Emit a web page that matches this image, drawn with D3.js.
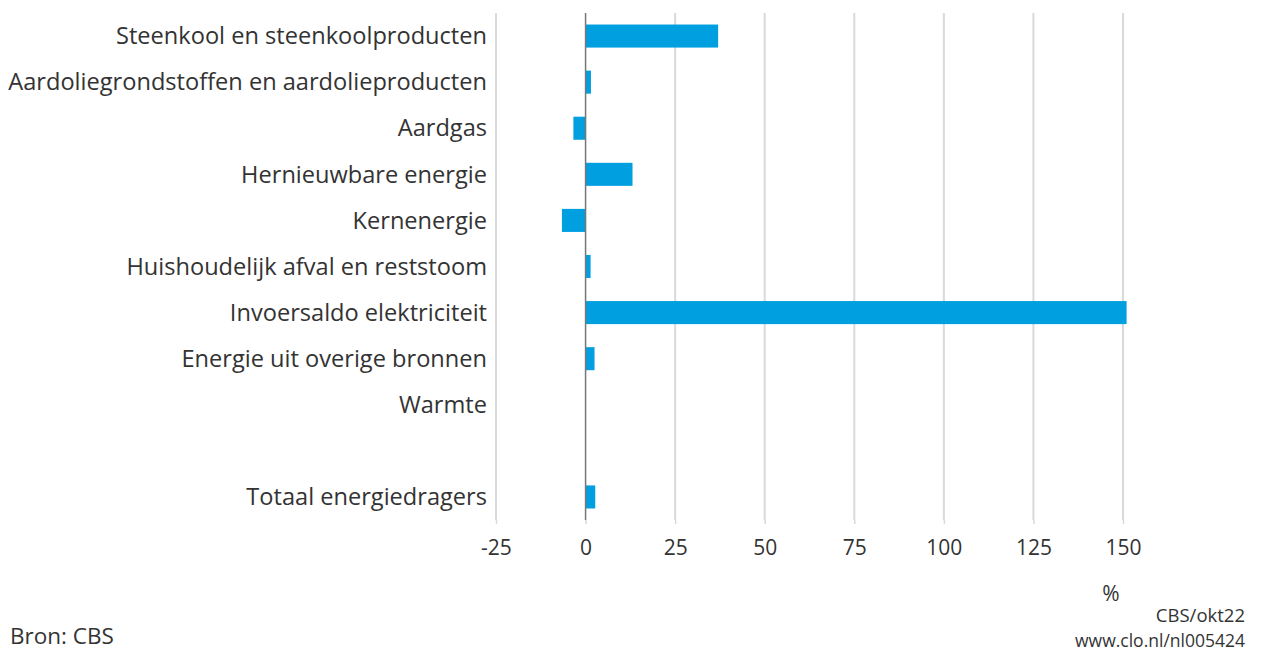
<!DOCTYPE html>
<html>
<head>
<meta charset="utf-8">
<script src="https://cdn.jsdelivr.net/npm/d3@7"></script>
<style>
  body { margin: 0; background: #fff; }
  text { font-family: "Open Sans", "Noto Sans", sans-serif; fill: #333; }
</style>
</head>
<body>
<div id="chart"></div>
<script>
// categories (empty string = blank row before the total)
const categories = [
    "Steenkool en steenkoolproducten",
    "Aardoliegrondstoffen en aardolieproducten",
    "Aardgas",
    "Hernieuwbare energie",
    "Kernenergie",
    "Huishoudelijk afval en reststoom",
    "Invoersaldo elektriciteit",
    "Energie uit overige bronnen",
    "Warmte",
    "",
    "Totaal energiedragers",
];
const values = [37, 1.5, -3.4, 13.1, -6.6, 1.4, 151, 2.5, 0, null, 2.7];
const xTicks = [-25, 0, 25, 50, 75, 100, 125, 150];

const width = 1276, height = 653;
const margin = { top: 13, left: 496, right: 153, bottom: 133 };

const svg = d3.select("#chart")
    .append("svg")
    .attr("width", width)
    .attr("height", height);

const x = d3.scaleLinear()
    .domain([-25, 150])
    .range([margin.left, width - margin.right]);

const y = d3.scaleBand()
    .domain(categories.map((d, i) => i))
    .range([margin.top, height - margin.bottom])
    .paddingInner(0.5)
    .paddingOuter(0.25);

// gridlines
svg.append("g")
    .selectAll("line")
    .data(xTicks.filter(t => t !== 0))
    .join("line")
    .attr("x1", d => x(d))
    .attr("x2", d => x(d))
    .attr("y1", margin.top)
    .attr("y2", height - margin.bottom)
    .attr("stroke", "#d9d9d9")
    .attr("stroke-width", 2);

// bars
svg.append("g")
    .selectAll("rect")
    .data(values.map((v, i) => ({ v, i })).filter(d => d.v != null))
    .join("rect")
    .attr("x", d => x(Math.min(0, d.v)))
    .attr("width", d => Math.abs(x(d.v) - x(0)))
    .attr("y", d => y(d.i))
    .attr("height", y.bandwidth())
    .attr("fill", "#009fe0");

// zero line
svg.append("line")
    .attr("x1", x(0)).attr("x2", x(0))
    .attr("y1", margin.top).attr("y2", height - margin.bottom)
    .attr("stroke", "#777")
    .attr("stroke-width", 1.5);

// category labels
svg.append("g")
    .selectAll("text")
    .data(categories)
    .join("text")
    .attr("x", margin.left - 9)
    .attr("y", (d, i) => y(i) + y.bandwidth() / 2)
    .attr("dy", "0.35em")
    .attr("text-anchor", "end")
    .attr("font-size", 23.6)
    .text(d => d);

// x axis tick labels
const xAxis = svg.append("g")
    .attr("transform", `translate(0,${height - margin.bottom})`)
    .call(d3.axisBottom(x).tickValues(xTicks).tickSize(4).tickPadding(16))
    .call(g => g.select(".domain").remove());
xAxis.selectAll(".tick line").attr("stroke", "#d9d9d9").attr("stroke-width", 1.5);
xAxis.selectAll(".tick text")
    .attr("font-size", 21)
    .style("font-family", '"Open Sans", "Noto Sans", sans-serif')
    .attr("fill", "#333")
    .text(d => d < 0 ? "-" + Math.abs(d) : d);

// unit
svg.append("text")
    .attr("x", x(150) - 12)
    .attr("y", 601)
    .attr("text-anchor", "middle")
    .attr("font-size", 21)
    .text("%");

// footer
svg.append("text")
    .attr("x", 10).attr("y", 644)
    .attr("font-size", 22.5)
    .text("Bron: CBS");
svg.append("text")
    .attr("x", 1245).attr("y", 622)
    .attr("text-anchor", "end")
    .attr("font-size", 18.5)
    .text("CBS/okt22");
svg.append("text")
    .attr("x", 1245).attr("y", 647)
    .attr("text-anchor", "end")
    .attr("font-size", 17.5)
    .text("www.clo.nl/nl005424");
</script>
</body>
</html>
